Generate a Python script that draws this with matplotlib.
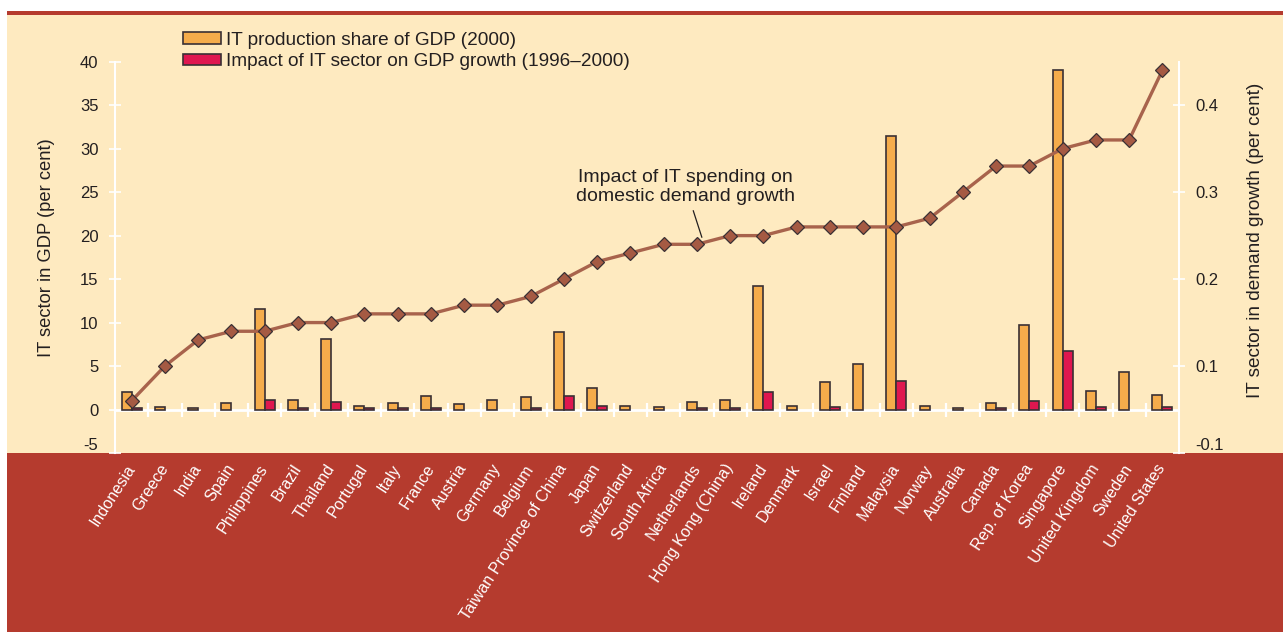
import matplotlib
matplotlib.use("Agg")
import matplotlib.pyplot as plt
import numpy as np
from matplotlib.patches import Rectangle, Patch

plt.rcParams['font.family'] = ['Liberation Sans', 'DejaVu Sans']

countries = ["Indonesia", "Greece", "India", "Spain", "Philippines", "Brazil", "Thailand",
             "Portugal", "Italy", "France", "Austria", "Germany", "Belgium",
             "Taiwan Province of China", "Japan", "Switzerland", "South Africa", "Netherlands",
             "Hong Kong (China)", "Ireland", "Denmark", "Israel", "Finland", "Malaysia",
             "Norway", "Australia", "Canada", "Rep. of Korea", "Singapore", "United Kingdom",
             "Sweden", "United States"]

it_production_share = [2.0, 0.3, 0.2, 0.8, 11.6, 1.1, 8.1, 0.45, 0.8, 1.6, 0.6, 1.1, 1.4,
                       8.9, 2.5, 0.45, 0.3, 0.9, 1.1, 14.2, 0.45, 3.2, 5.2, 31.5,
                       0.45, 0.15, 0.8, 9.7, 39.1, 2.1, 4.3, 1.7]

it_impact_gdp_growth = [0.2, 0, 0, 0, 1.1, 0.2, 0.9, 0.2, 0.2, 0.2, 0, 0, 0.2,
                        1.6, 0.4, 0, 0, 0.2, 0.2, 2.0, 0, 0.3, 0, 3.3,
                        0, 0, 0.2, 1.0, 6.7, 0.3, 0, 0.3]

it_spending_demand_growth = [0.06, 0.10, 0.13, 0.14, 0.14, 0.15, 0.15, 0.16, 0.16, 0.16,
                             0.17, 0.17, 0.18, 0.20, 0.22, 0.23, 0.24, 0.24, 0.25, 0.25,
                             0.26, 0.26, 0.26, 0.26, 0.27, 0.30, 0.33, 0.33, 0.35, 0.36,
                             0.36, 0.44]

left_ticks = [-5, 0, 5, 10, 15, 20, 25, 30, 35, 40]
right_ticks = [0.0, 0.1, 0.2, 0.3, 0.4]
right_tick_labels = ["-0.1", "0.1", "0.2", "0.3", "0.4"]

legend_labels = ["IT production share of GDP (2000)",
                 "Impact of IT sector on GDP growth (1996\u20132000)"]

CREAM = "#FEEAC0"
BAND = "#B53B2E"
ORANGE = "#F5AC4B"
CRIMSON = "#DF174F"
EDGE = "#3A3034"
LINE = "#A8634C"
DIAMOND = "#A55A43"
TEXT = "#231F20"

W, H = 1286, 632
fig = plt.figure(figsize=(W / 100, H / 100), dpi=100)
fig.patch.set_facecolor("white")

# background panels
for rect in [Rectangle((7 / W, 0), (1283 - 7) / W, (632 - 453) / H, facecolor=BAND),
             Rectangle((7 / W, (632 - 453) / H), (1283 - 7) / W, (453 - 15) / H, facecolor=CREAM),
             Rectangle((7 / W, (632 - 15) / H), (1283 - 7) / W, 3.5 / H, facecolor=BAND)]:
    rect.set_transform(fig.transFigure)
    rect.set_edgecolor("none")
    rect.set_zorder(-10)
    fig.patches.append(rect)

left, right, top, bottom = 115 / W, 1179 / W, 1 - 61.7 / H, 1 - 453 / H
ax = fig.add_axes([left, bottom, right - left, top - bottom])
ax.patch.set_visible(False)
ax2 = ax.twinx()
ax2.patch.set_visible(False)

n = len(countries)
x = np.arange(n)
bw = 0.30

prod = np.array(it_production_share)
imp = np.array(it_impact_gdp_growth)
m1 = prod > 0
m2 = imp > 0
ax.axhline(0, color="white", lw=2, zorder=1)
ax.plot(np.arange(n - 1) + 0.5, np.zeros(n - 1), linestyle="none", marker="|",
        markersize=10, markeredgewidth=1.6, color="white", zorder=1, clip_on=False)
ax.bar(x[m1] - bw / 2, prod[m1], width=bw, color=ORANGE, edgecolor=EDGE, linewidth=1.2, zorder=2)
ax.bar(x[m2] + bw / 2, imp[m2], width=bw, color=CRIMSON, edgecolor=EDGE, linewidth=1.2, zorder=2)

ax.set_xlim(-0.5, n - 0.5)
ax.set_ylim(-5, 40)
ax.set_yticks(left_ticks)
ax.set_yticklabels([str(t) for t in left_ticks])
ax.tick_params(axis="y", direction="inout", length=8, width=1.2, color="white",
               labelsize=12, labelcolor=TEXT, pad=8)
ax.get_yticklabels()[0].set_verticalalignment("bottom")

ax.set_xticks(x)
ax.set_xticklabels(countries, rotation=57, ha="right", va="center", rotation_mode="anchor")
ax.tick_params(axis="x", length=0, labelsize=11.6, labelcolor="white", pad=9)

for s in ["top", "bottom", "right"]:
    ax.spines[s].set_visible(False)
ax.spines["left"].set_color("white")
ax.spines["left"].set_linewidth(1.5)

ax.set_ylabel("IT sector in GDP (per cent)", fontsize=13.2, color=TEXT)
ax.yaxis.set_label_coords(-0.056, 0.524)

# right axis line
ax2.plot(x, it_spending_demand_growth, color=LINE, lw=2.4, zorder=3,
         marker="D", markersize=7.5, markerfacecolor=DIAMOND, markeredgecolor=EDGE,
         markeredgewidth=0.9, clip_on=False)
ax2.set_ylim(0, 0.45)
ax2.set_yticks(right_ticks)
ax2.set_yticklabels(right_tick_labels)
ax2.tick_params(axis="y", direction="inout", length=8, width=1.2, color="white",
                labelsize=12, labelcolor=TEXT, pad=8)
ax2.get_yticklabels()[0].set_verticalalignment("bottom")
for s in ["top", "bottom", "left"]:
    ax2.spines[s].set_visible(False)
ax2.spines["right"].set_color("white")
ax2.spines["right"].set_linewidth(1.5)
ax2.set_ylabel("IT sector in demand growth (per cent)", fontsize=13.7, color=TEXT)
ax2.yaxis.set_label_coords(1.064, 0.544)

ax2.annotate("Impact of IT spending on\ndomestic demand growth",
             xy=(17.15, 0.248), xytext=(16.66, 0.306), textcoords="data",
             ha="center", va="center", fontsize=14, color=TEXT, linespacing=1.2,
             arrowprops=dict(arrowstyle="-", color=TEXT, lw=0.9, shrinkA=2, shrinkB=0))

handles = [Patch(facecolor=ORANGE, edgecolor=EDGE, linewidth=1.2),
           Patch(facecolor=CRIMSON, edgecolor=EDGE, linewidth=1.2)]
fig.legend(handles, legend_labels, loc="upper left", bbox_to_anchor=(175 / W, 1 - 24 / H),
           frameon=False, fontsize=13.7, handlelength=2.0, handleheight=0.55,
           handletextpad=0.3, labelspacing=0.25, borderaxespad=0, labelcolor=TEXT)

fig.savefig("out.png", dpi=100, facecolor=fig.get_facecolor())
